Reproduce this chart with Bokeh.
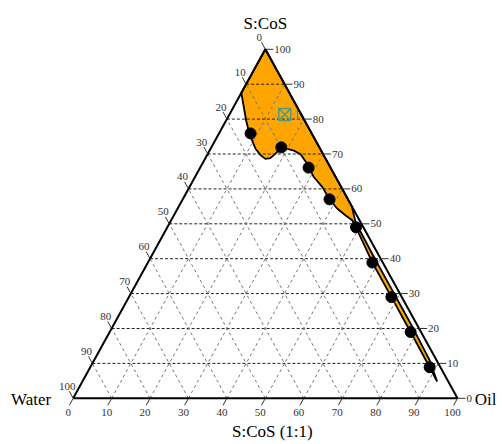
from bokeh.plotting import figure
from bokeh.models import ColumnDataSource, Range1d
from bokeh.core.properties import value
from bokeh.embed import file_html
from bokeh.resources import INLINE

# ---------------- data ----------------
tick_values = [0, 10, 20, 30, 40, 50, 60, 70, 80, 90, 100]
tick_labels = [str(v) for v in tick_values]
grid_values = [10, 20, 30, 40, 50, 60, 70, 80, 90]

# measured formulations (percent): Oil, S:CoS ; Water = 100 - Oil - S:CoS
point_oil = [8.2, 18.2, 28.2, 38.2, 49.1, 58.4, 68.3, 78.3, 88.3]
point_scos = [75.9, 71.9, 66.1, 57.0, 49.0, 38.9, 29.0, 19.0, 8.9]

# boundary of the microemulsion region (Oil, S:CoS)
region_oil = [0, 45.0, 48.2, 57.5, 67.5, 77.5, 87.2, 92.3, 88.3, 78.3, 68.3, 58.4,
              49.1, 47.1, 44.7, 41.6, 38.3, 34.6, 30.9, 27.3, 24.2, 21.9, 20.0,
              18.2, 17.6, 16.9, 15.7, 14.0, 11.7, 9.6, 7.3, 5.2, 2.7, 0]
region_scos = [100, 55.0, 50.5, 41.0, 31.0, 21.0, 11.0, 4.8, 8.9, 19.0, 29.0, 38.9,
               49.0, 51.0, 52.4, 54.3, 56.9, 60.5, 63.4, 67.2, 69.9, 71.0, 71.5,
               71.8, 70.1, 68.8, 68.6, 69.6, 71.5, 73.9, 76.7, 79.6, 83.4, 87.5]

# selected formulation
sel_oil = [14.4]
sel_scos = [81.3]
sel_label = ["1"]

# ---------------- layout ----------------
PXX = 3.843   # pixels per unit horizontally
PXY = 3.49    # pixels per unit vertically
X0 = 72.7     # canvas pixel of Water vertex
Y0 = 397.8
W, H = 502, 444

def tx(o, s):
    return o + s / 2.0

FONT = value("Liberation Serif")

p = figure(width=W, height=H, output_backend="svg", toolbar_location=None,
           x_range=Range1d(-X0 / PXX, (W - X0) / PXX),
           y_range=Range1d((Y0 - H) / PXY, Y0 / PXY),
           min_border=0, outline_line_color=None)
p.axis.visible = False
p.xgrid.visible = False
p.ygrid.visible = False
p.background_fill_color = "white"
p.border_fill_color = "white"

# region
p.patch([tx(o, s) for o, s in zip(region_oil, region_scos)], region_scos,
        fill_color="#FFA500", line_color="black", line_width=1.8)

# grid: horizontal (constant S:CoS)
hx0, hx1, hy = [], [], []
for g in grid_values:
    hx0.append(tx(0, g)); hx1.append(tx(100 - g, g)); hy.append(g)
p.segment(hx0, hy, hx1, hy, line_color="#222222", line_width=1, line_dash="3 2")
# constant Oil lines
ax0, ay0, ax1, ay1 = [], [], [], []
for g in grid_values:
    ax0.append(tx(g, 0)); ay0.append(0); ax1.append(tx(g, 100 - g)); ay1.append(100 - g)
# constant Water lines
for g in grid_values:
    ax0.append(tx(100 - g, 0)); ay0.append(0); ax1.append(tx(0, 100 - g)); ay1.append(100 - g)
p.segment(ax0, ay0, ax1, ay1, line_color="#777777", line_width=1, line_dash="3 3")

# triangle
p.line([tx(0, 0), tx(100, 0), tx(0, 100), tx(0, 0)], [0, 0, 100, 0],
       line_color="black", line_width=2)

# ticks
TL = 8.0
rx0, ry0, rx1, ry1 = [], [], [], []
for v in tick_values:
    # right axis (S:CoS), horizontal to the right
    rx0.append(tx(100 - v, v)); ry0.append(v); rx1.append(tx(100 - v, v) + TL / PXX); ry1.append(v)
    # left axis (Water), up-left
    s = 100 - v
    rx0.append(tx(0, s)); ry0.append(s); rx1.append(tx(0, s) - 0.482 * TL / PXX); ry1.append(s + 0.876 * TL / PXY)
    # bottom axis (Oil), down-left
    rx0.append(tx(v, 0)); ry0.append(0); rx1.append(tx(v, 0) - 0.482 * TL / PXX); ry1.append(-0.876 * TL / PXY)
p.segment(rx0, ry0, rx1, ry1, line_color="#333333", line_width=1)

# tick labels
right_src = ColumnDataSource(dict(x=[tx(100 - v, v) for v in tick_values], y=tick_values, t=tick_labels))
p.text("x", "y", text="t", source=right_src, x_offset=TL + 1, y_offset=0,
       text_align="left", text_baseline="middle", text_font=FONT,
       text_font_size="11px", text_color="#333333")
left_src = ColumnDataSource(dict(x=[tx(0, 100 - v) for v in tick_values], y=[100 - v for v in tick_values], t=tick_labels))
p.text("x", "y", text="t", source=left_src, x_offset=-6, y_offset=-12,
       text_align="center", text_baseline="middle", text_font=FONT,
       text_font_size="11px", text_color="#333333")
bottom_src = ColumnDataSource(dict(x=[tx(v, 0) for v in tick_values], y=[0] * len(tick_values), t=tick_labels))
p.text("x", "y", text="t", source=bottom_src, x_offset=-5, y_offset=14,
       text_align="center", text_baseline="middle", text_font=FONT,
       text_font_size="11px", text_color="#333333")

# points
p.scatter([tx(o, s) for o, s in zip(point_oil, point_scos)], point_scos,
          size=11, fill_color="black", line_color="black")

# selected formulation
p.scatter([tx(o, s) for o, s in zip(sel_oil, sel_scos)], sel_scos, marker="square_x",
          size=12, fill_color=None, line_color="#4f9a80", line_width=1.5)
p.text([tx(o, s) for o, s in zip(sel_oil, sel_scos)], sel_scos, text=sel_label,
       x_offset=9, y_offset=-1, text_align="left", text_baseline="middle",
       text_font=FONT, text_font_size="13px", text_color="#4f9a80")

# axis titles
p.text([tx(0, 100)], [100], text=["S:CoS"], x_offset=0, y_offset=-26,
       text_align="center", text_baseline="middle", text_font=FONT,
       text_font_size="17px", text_color="black")
p.text([tx(50, 0)], [0], text=["S:CoS (1:1)"], x_offset=7, y_offset=33,
       text_align="center", text_baseline="middle", text_font=FONT,
       text_font_size="17px", text_color="black")
p.text([tx(0, 0)], [0], text=["Water"], x_offset=-42, y_offset=1,
       text_align="center", text_baseline="middle", text_font=FONT,
       text_font_size="17px", text_color="black")
p.text([tx(100, 0)], [0], text=["Oil"], x_offset=28, y_offset=1,
       text_align="center", text_baseline="middle", text_font=FONT,
       text_font_size="17px", text_color="black")

open("out.html", "w").write(file_html(p, INLINE))
